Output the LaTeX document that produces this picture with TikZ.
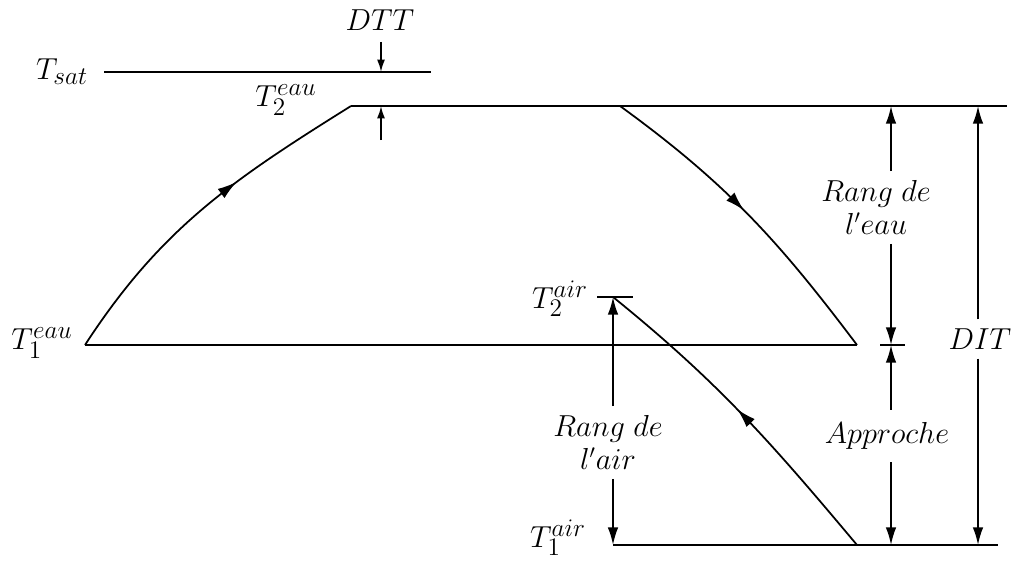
\documentclass[tikz,border=0pt]{standalone}
\usepackage{tikz}
\usetikzlibrary{arrows.meta,positioning,decorations.markings,calc}
\tikzset{
  ligne/.style={line width=1pt,black},
  arr/.style={-{Latex[length=10pt,width=6pt]},line width=1pt},
  sarr/.style={-{Latex[length=7pt,width=4.5pt]},line width=1pt},
  flow/.style={line width=1pt,
               decoration={markings,
                 mark=at position #1 with {\arrow{Latex[length=11pt,width=6.5pt]}}},
               postaction={decorate}},
  flow/.default=0.5,
  lbl/.style={font=\fontsize{19}{23}\selectfont,inner sep=1pt},
  cote/.style={font=\LARGE,inner sep=5pt},
  txt/.style={font=\fontsize{16}{19}\selectfont,align=center,inner sep=#1},
  txt/.default=5pt,
}

\begin{document}
\begin{tikzpicture}
  \useasboundingbox (0,0) rectangle (20.3,11.22);
  % niveaux de temperature
  \coordinate (sat-a) at (2.08,9.78);
  \coordinate (sat-b) at (8.62,9.78);
  \coordinate (e2-a)  at (7.02,9.10);
  \coordinate (e2-c)  at (12.40,9.10);
  \coordinate (e2-b)  at (20.14,9.10);
  \coordinate (e1-a)  at (1.70,4.32);
  \coordinate (e1-b)  at (17.14,4.32);
  \coordinate (a2)    at (12.26,5.28);
  \coordinate (a2-l)  at (11.94,5.28);
  \coordinate (a2-r)  at (12.66,5.28);
  \coordinate (a1-a)  at (12.26,0.32);
  \coordinate (a1-c)  at (17.14,0.32);
  \coordinate (a1-b)  at (19.96,0.32);
  \coordinate (tk-l)  at (17.60,4.32);
  \coordinate (tk-r)  at (18.10,4.32);
  \coordinate (tk)    at (17.82,4.32);

  \draw[ligne] (sat-a) -- (sat-b);
  \draw[ligne] (e2-a) -- (e2-b);
  \draw[ligne] (e1-a) -- (e1-b);
  \draw[ligne] (a1-a) -- (a1-b);
  \draw[ligne] (a2-l) -- (a2-r);
  \draw[ligne] (tk-l) -- (tk-r);

  % evolutions eau / air
  \draw[flow=0.62] (e1-a) to[out=57,in=212] (e2-a);
  \draw[flow=0.48] (e2-c) to[out=-36,in=127] (e1-b);
  \draw[flow=0.52] (a1-c) to[out=130,in=-39] (a2);

  % etiquettes
  \node[lbl] (tsat) at (1.24,9.78) {$T_{sat}$};
  \node[lbl] (te2)  at (5.72,9.22) {$T_2^{eau}$};
  \node[lbl] (te1)  at (0.84,4.36) {$T_1^{eau}$};
  \node[lbl] (ta2)  at (11.20,5.24) {$T_2^{air}$};
  \node[lbl] (ta1)  at (11.16,0.46) {$T_1^{air}$};
  \node[cote,inner sep=1pt] (dtt) at (7.60,10.82) {$DTT$};

  % DTT
  \coordinate (dtt-a) at (7.62,10.38);
  \coordinate (dtt-b) at (7.62,9.78);
  \coordinate (dtt-c) at (7.62,8.42);
  \coordinate (dtt-d) at (7.62,9.10);
  \draw[sarr] (dtt-a) -- (dtt-b);
  \draw[sarr] (dtt-c) -- (dtt-d);

  % cotes
  \node[txt] (reau) at (17.52,7.07) {$Rang\ de$\\$l'eau$};
  \draw[arr] (reau.north -| tk) -- (tk |- e2-b);
  \draw[arr] (reau.south -| tk) -- (tk);

  \node[txt=7pt] (appr) at (17.74,2.50) {$Approche$};
  \draw[arr] (appr.north -| tk) -- (tk);
  \draw[arr] (appr.south -| tk) -- (tk |- a1-b);

  \node[txt] (rair) at (12.16,2.37) {$Rang\ de$\\$l'air$};
  \draw[arr] (rair.north -| a2) -- (a2);
  \draw[arr] (rair.south -| a2) -- (a1-a);

  \node[cote] (dit) at (19.60,4.44) {$DIT$};
  \coordinate (dit-x) at (19.56,4.44);
  \draw[arr] (dit.north -| dit-x) -- (dit-x |- e2-b);
  \draw[arr] (dit.south -| dit-x) -- (dit-x |- a1-b);
\end{tikzpicture}
\end{document}
